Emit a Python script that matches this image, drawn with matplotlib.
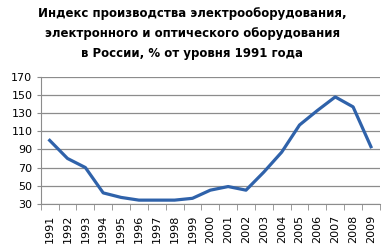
import numpy as np
import matplotlib
matplotlib.use("Agg")
import matplotlib.pyplot as plt

years = [str(y) for y in range(1991, 2010)]
index_vals = [100, 80, 70, 42, 37, 34, 34, 34, 36, 45, 49, 45, 65, 87, 117, 133, 148, 137, 93]
yticks = [30, 50, 70, 90, 110, 130, 150, 170]

fig = plt.figure(figsize=(3.88, 2.5), dpi=100)
ax = fig.add_axes([0.105, 0.185, 0.874, 0.507])

x = np.arange(len(years))
ax.plot(x, index_vals, color="#2f62aa", linewidth=2.3, solid_joinstyle="round", zorder=3)

ax.set_xlim(-0.5, len(years) - 0.5)
ax.set_ylim(30, 170)
ax.set_yticks(yticks)
ax.set_yticklabels([str(v) for v in yticks], fontsize=8)
ax.yaxis.grid(True, color="#8c8c8c", linewidth=0.9)
ax.set_axisbelow(True)

ax.set_xticks(x)
ax.set_xticklabels(years, rotation=90, fontsize=8)
ax.tick_params(axis="x", which="major", length=0, pad=8)
ax.set_xticks(np.arange(-0.5, len(years)), minor=True)
ax.tick_params(axis="x", which="minor", length=4, color="#8c8c8c")
ax.tick_params(axis="y", length=3, color="#8c8c8c", pad=3)

for s in ["top", "right"]:
    ax.spines[s].set_visible(False)
ax.spines["left"].set_color("#8c8c8c")
ax.spines["bottom"].set_color("#8c8c8c")

title_lines = ["Индекс производства электрооборудования,",
               "электронного и оптического оборудования",
               "в России, % от уровня 1991 года"]
for i, t in enumerate(title_lines):
    fig.text(0.496, 1 - (14 + i * 19.5) / 250, t, ha="center", va="center",
             fontsize=8.5, fontweight="bold")

fig.savefig("out.png", dpi=100)
